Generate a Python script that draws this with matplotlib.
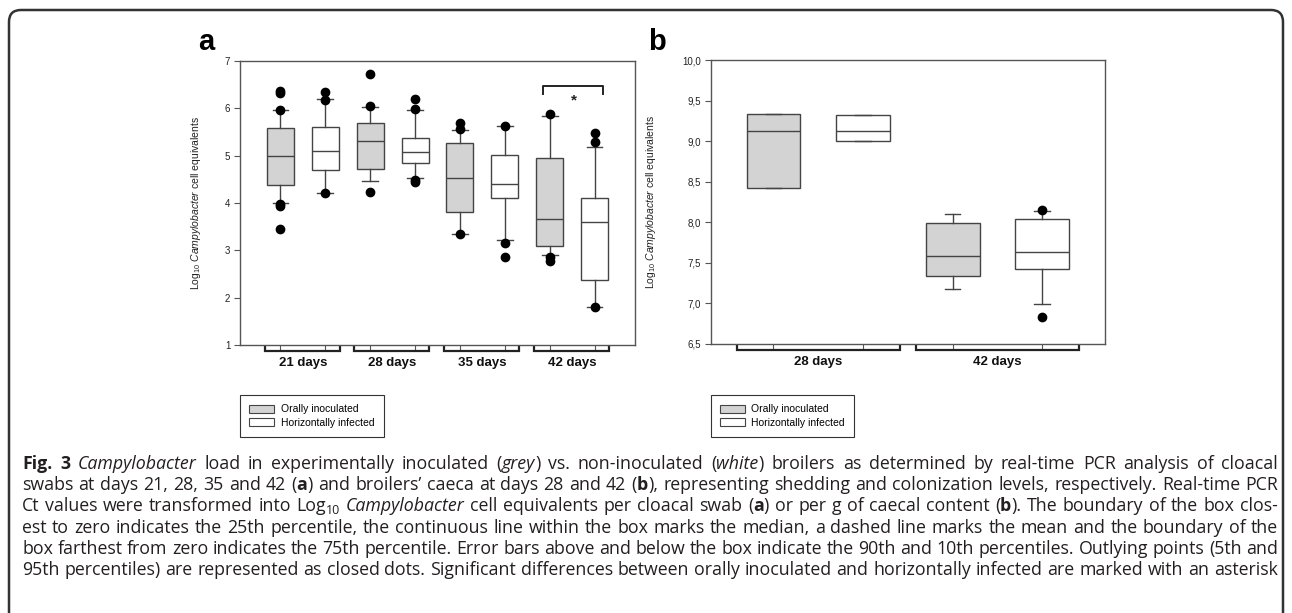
import re
import matplotlib
matplotlib.use('Agg')
import matplotlib.pyplot as plt
from matplotlib.patches import Patch, FancyBboxPatch
from matplotlib.ticker import FuncFormatter
from matplotlib.transforms import IdentityTransform, blended_transform_factory

plt.rcParams['font.family'] = ['Liberation Sans', 'DejaVu Sans']
plt.rcParams['mathtext.fontset'] = 'custom'
plt.rcParams['mathtext.rm'] = 'Liberation Sans'
plt.rcParams['mathtext.it'] = 'Liberation Sans:italic'
plt.rcParams['mathtext.bf'] = 'Liberation Sans:bold'

#################################################
# DATA
#################################################

# panel a : cloacal swabs, 4 days x (orally inoculated, horizontally infected)
a_groups = ['21 days', '28 days', '35 days', '42 days']
a_q1 = [4.39, 4.69, 4.72, 4.84, 3.80, 4.10, 3.10, 2.38]
a_med = [5.00, 5.10, 5.32, 5.07, 4.52, 4.41, 3.67, 3.60]
a_q3 = [5.58, 5.60, 5.68, 5.37, 5.26, 5.02, 4.96, 4.10]
a_whislo = [4.00, 4.22, 4.46, 4.53, 3.34, 3.22, 2.91, 1.80]
a_whishi = [5.96, 6.19, 6.03, 5.96, 5.54, 5.63, 5.84, 5.18]
a_fliers = [[6.37, 6.32, 5.96, 3.98, 3.93, 3.45],
            [6.35, 6.17, 4.22],
            [6.73, 6.05, 4.23],
            [6.19, 5.98, 4.48, 4.44],
            [5.69, 5.56, 3.34],
            [5.63, 3.15, 2.85],
            [5.87, 2.85, 2.78],
            [5.47, 5.28, 1.80]]
a_yticks = [1, 2, 3, 4, 5, 6, 7]

# panel b : caeca, 2 days
b_groups = ['28 days', '42 days']
b_q1 = [8.42, 9.00, 7.34, 7.43]
b_med = [9.12, 9.12, 7.58, 7.63]
b_q3 = [9.33, 9.32, 7.99, 8.04]
b_whislo = [8.42, 9.00, 7.18, 6.99]
b_whishi = [9.33, 9.32, 8.10, 8.14]
b_fliers = [[], [], [], [8.15, 6.83]]
b_yticks = [6.5, 7.0, 7.5, 8.0, 8.5, 9.0, 9.5, 10.0]

legend_labels = ['Orally inoculated', 'Horizontally infected']

caption_lines = [
    "**Fig. 3** *Campylobacter* load in experimentally inoculated (*grey*) vs. non-inoculated (*white*) broilers as determined by real-time PCR analysis of cloacal",
    "swabs at days 21, 28, 35 and 42 (**a**) and broilers\u2019 caeca at days 28 and 42 (**b**), representing shedding and colonization levels, respectively. Real-time PCR",
    "Ct values were transformed into Log_{10} *Campylobacter* cell equivalents per cloacal swab (**a**) or per g of caecal content (**b**). The boundary of the box clos-",
    "est to zero indicates the 25th percentile, the continuous line within the box marks the median, a dashed line marks the mean and the boundary of the",
    "box farthest from zero indicates the 75th percentile. Error bars above and below the box indicate the 90th and 10th percentiles. Outlying points (5th and",
    "95th percentiles) are represented as closed dots. Significant differences between orally inoculated and horizontally infected are marked with an asterisk",
]

GREY = '#d3d3d3'
EDGE = '#444444'
SPINE = '#555555'
CAPFONT = ['Open Sans', 'DejaVu Sans']
W, H = 1292, 613


def fx(px):
    return px / W


def fy(py):
    return 1 - py / H


#################################################
# FUNCTIONS
#################################################

def drawBoxes(ax, q1, med, q3, wlo, whi, fliers, capw):
    stats = []
    for i in range(len(q1)):
        stats.append({'q1': q1[i], 'med': med[i], 'q3': q3[i],
                      'whislo': wlo[i], 'whishi': whi[i], 'fliers': fliers[i]})
    pos = list(range(1, len(q1) + 1))
    res = ax.bxp(stats, positions=pos, widths=0.6, patch_artist=True,
                 capwidths=capw, manage_ticks=False,
                 boxprops=dict(edgecolor=EDGE, linewidth=1.0),
                 medianprops=dict(color=EDGE, linewidth=1.0),
                 whiskerprops=dict(color=EDGE, linewidth=1.0),
                 capprops=dict(color=EDGE, linewidth=1.0),
                 flierprops=dict(marker='o', markerfacecolor='black',
                                 markeredgecolor='black', markersize=6))
    for i, b in enumerate(res['boxes']):
        b.set_facecolor(GREY if i % 2 == 0 else 'white')
    return pos


def styleAxis(ax, pos, yticks, fmt):
    for s in ax.spines.values():
        s.set_color(SPINE)
        s.set_linewidth(1.0)
    ax.set_yticks(yticks)
    ax.yaxis.set_major_formatter(FuncFormatter(fmt))
    ax.set_xticks(pos)
    ax.set_xticklabels([])
    ax.tick_params(axis='both', direction='out', length=4, width=0.8,
                   color=SPINE, labelsize=7, labelcolor='#222222', pad=3)


def groupBrackets(ax, groups, pos, left, right):
    tr = blended_transform_factory(ax.transData, ax.transAxes)
    for g, name in enumerate(groups):
        c1, c2 = pos[2 * g], pos[2 * g + 1]
        ax.plot([c1 - left, c1 - left, c2 + right, c2 + right],
                [-0.007, -0.02, -0.02, -0.007], color='#222222', lw=1.6,
                transform=tr, clip_on=False, solid_joinstyle='miter')
        ax.text((c1 + c2) / 2, -0.062, name, transform=tr, ha='center',
                va='center', fontsize=9.5, fontweight='bold', color='#111111')


def parseWords(line):
    words = [[]]
    for tok in re.split(r'(\*\*.+?\*\*|\*.+?\*|_\{.+?\})', line):
        if not tok:
            continue
        if tok.startswith('**'):
            style, tok = 'bold', tok[2:-2]
        elif tok.startswith('*'):
            style, tok = 'italic', tok[1:-1]
        elif tok.startswith('_{'):
            style, tok = 'sub', tok[2:-1]
        else:
            style = 'normal'
        parts = tok.split(' ')
        for k, p in enumerate(parts):
            if k > 0:
                words.append([])
            if p:
                words[-1].append((p, style))
    return [w for w in words if w]


def makeWords(fig, line, size):
    renderer = fig.canvas.get_renderer()
    placed = []
    total = 0
    for w in parseWords(line):
        items = []
        for txt, style in w:
            kw = dict(fontsize=size, family=CAPFONT, color='#231f20',
                      va='baseline', ha='left')
            dy = 0
            if style == 'bold':
                kw['fontweight'] = 'bold'
            elif style == 'italic':
                kw['style'] = 'italic'
            elif style == 'sub':
                kw['fontsize'] = size * 0.7
                dy = 3
            t = fig.text(0, 0, txt, **kw)
            wd = t.get_window_extent(renderer).width
            items.append((t, wd, dy))
            total += wd
        placed.append(items)
    return placed, total


def justifiedLine(fig, line, x0, x1, ybase, size):
    placed, total = makeWords(fig, line, size)
    gap = (x1 - x0 - total) / (len(placed) - 1)
    x = x0
    for items in placed:
        for t, wd, dy in items:
            t.set_position((fx(x), fy(ybase + dy)))
            x += wd
        x += gap


def fitCaptionSize(fig, lines, avail, size0=10):
    # size so that the tightest line fits with normal word spaces
    space = 0.26 * size0 * fig.dpi / 72
    best = 100
    for line in lines:
        placed, total = makeWords(fig, line, size0)
        for items in placed:
            for t, wd, dy in items:
                t.remove()
        natural = total + space * (len(placed) - 1)
        best = min(best, size0 * avail / natural)
    return best


#################################################
# FIGURE
#################################################

fig = plt.figure(figsize=(12.92, 6.13), dpi=100)

# panel a
axA = fig.add_axes([fx(240), fy(345), fx(395), 284 / H])
posA = drawBoxes(axA, a_q1, a_med, a_q3, a_whislo, a_whishi, a_fliers, 0.35)
axA.set_xlim(0.1, 8.9)
axA.set_ylim(1, 7)
styleAxis(axA, posA, a_yticks, lambda v, p: '%d' % v)
axA.set_ylabel(r'Log$_{10}$ $\mathit{Campylobacter}$ cell equivalents',
               fontsize=7.5, color='#222222')
axA.yaxis.set_label_coords(-0.094, 0.5)
groupBrackets(axA, a_groups, posA, 0.35, 0.32)

# significance bracket 42 days
axA.plot([posA[6] - 0.14, posA[6] - 0.14, posA[7] + 0.19, posA[7] + 0.19],
         [6.30, 6.48, 6.48, 6.30], color='#222222', lw=1.4)
axA.text((posA[6] + posA[7]) / 2 + 0.03, 6.16, '*', ha='center', va='center',
         fontsize=11, fontweight='bold', color='#222222')

# panel b
axB = fig.add_axes([fx(710.7), fy(344), fx(394.3), 284 / H])
posB = drawBoxes(axB, b_q1, b_med, b_q3, b_whislo, b_whishi, b_fliers, 0.175)
axB.set_xlim(0.3, 4.7)
axB.set_ylim(6.5, 10.0)
styleAxis(axB, posB, b_yticks, lambda v, p: ('%.1f' % v).replace('.', ','))
axB.set_ylabel(r'Log$_{10}$ $\mathit{Campylobacter}$ cell equivalents',
               fontsize=7.5, color='#222222')
axB.yaxis.set_label_coords(-0.134, 0.5)
groupBrackets(axB, b_groups, posB, 0.41, 0.41)

# panel letters
fig.text(fx(198), fy(50), 'a', fontsize=21, fontweight='bold', va='baseline')
fig.text(fx(648), fy(49.5), 'b', fontsize=21, fontweight='bold', va='baseline')

# legends
handles = [Patch(facecolor=GREY, edgecolor=EDGE, linewidth=0.8),
           Patch(facecolor='white', edgecolor=EDGE, linewidth=0.8)]
for lx in [240, 710.7]:
    leg = fig.legend(handles, legend_labels, loc='upper left',
                     bbox_to_anchor=(fx(lx), fy(395)), borderaxespad=0,
                     fontsize=7.5, fancybox=False, framealpha=1,
                     edgecolor='#333333', handlelength=2.4, handleheight=0.75,
                     borderpad=0.9, labelspacing=0.3, handletextpad=0.6)
    leg.get_frame().set_linewidth(0.8)

# caption
capsize = fitCaptionSize(fig, caption_lines, 1278 - 22)
baselines = [469, 490.2, 511.4, 532.6, 553.8, 575]
for line, yb in zip(caption_lines, baselines):
    justifiedLine(fig, line, 22, 1278, yb, capsize)

# rounded frame
frame = FancyBboxPatch((9, -20), 1274, 623, boxstyle='round,pad=0,rounding_size=12',
                       transform=IdentityTransform(), facecolor='none',
                       edgecolor='#333333', linewidth=1.8)
fig.add_artist(frame)

fig.savefig('out.png', dpi=100)
